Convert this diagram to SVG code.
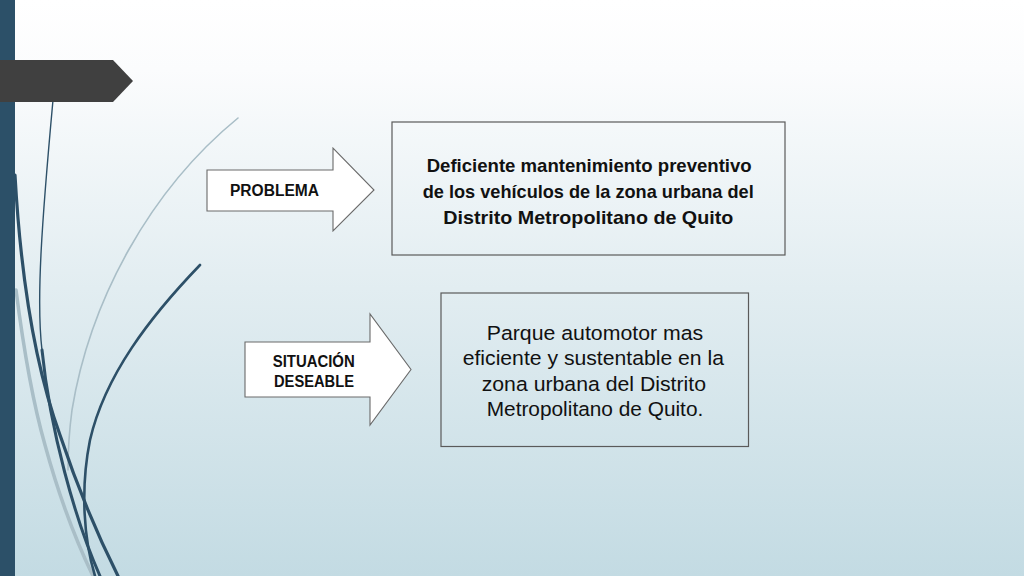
<svg xmlns="http://www.w3.org/2000/svg" width="1024" height="576" viewBox="0 0 1024 576">
  <defs>
    <linearGradient id="bg" x1="0" y1="0" x2="0" y2="1">
      <stop offset="0" stop-color="#ffffff"/>
      <stop offset="0.12" stop-color="#fbfcfd"/>
      <stop offset="0.5" stop-color="#e2edf1"/>
      <stop offset="1" stop-color="#c3dbe3"/>
    </linearGradient>
  </defs>
  <style>
    .box { fill: none; stroke: #5a5a5a; stroke-width: 1.2; }
    .blk { fill: #ffffff; stroke: #6a6a6a; stroke-width: 1.1; stroke-linejoin: miter; }
    .bold { font-family: "Liberation Sans", Arial, sans-serif; font-weight: bold; fill: #111111; }
    .reg { font-family: "Liberation Sans", Arial, sans-serif; font-size: 20.5px; fill: #111111; }
    .dark { fill: none; stroke: #2d5068; stroke-linecap: round; }
    .light { fill: none; stroke: #a9bec7; stroke-linecap: round; }
  </style>

  <rect x="0" y="0" width="1024" height="576" fill="url(#bg)"/>

  <g id="decoration">
    <path class="light" d="M238,118 C150,190 90,300 72,410 C68,440 68,455 68,470" stroke="#cbd4d8" stroke-width="1.6"/>
    <path class="light" d="M16,290 C25,360 35,410 45,445 C60,500 78,545 93,576" stroke-width="3.5"/>
    <path class="dark" d="M53,100 C42,220 36,300 42,350" stroke-width="1.4" stroke="#4d6778"/>
    <path class="dark" d="M42,350 C50,430 75,520 100,576" stroke-width="3"/>
    <path class="dark" d="M15,175 C22,300 40,380 60,435 C75,480 95,530 118,576" stroke-width="3.2"/>
    <path class="dark" d="M200,265 C150,317 105,375 90,440 C80,490 84,540 95,576" stroke-width="2.6"/>
    <rect x="0" y="0" width="15" height="576" fill="#2c5068"/>
    <polygon points="0,60 113,60 133,81 113,102 0,102" fill="#404040"/>
  </g>

  <g id="arrow-problema">
    <polygon class="blk" points="207,170 333,170 333,148 374,190 333,231 333,211 207,211"/>
    <text class="bold" x="230" y="195.5" font-size="16" textLength="89" lengthAdjust="spacingAndGlyphs">PROBLEMA</text>
  </g>

  <g id="box-problema">
    <rect class="box" x="392" y="122" width="393" height="133"/>
    <text class="bold" font-size="19">
      <tspan x="426.7" y="171.5" textLength="325" lengthAdjust="spacingAndGlyphs">Deficiente mantenimiento preventivo</tspan>
    </text>
    <text class="bold" font-size="19">
      <tspan x="422.7" y="197.5" textLength="331" lengthAdjust="spacingAndGlyphs">de los vehículos de la zona urbana del</tspan>
    </text>
    <text class="bold" font-size="19">
      <tspan x="443.3" y="223.5" textLength="290" lengthAdjust="spacingAndGlyphs">Distrito Metropolitano de Quito</tspan>
    </text>
  </g>

  <g id="arrow-situacion">
    <polygon class="blk" points="245,342 370,342 370,314 411,369.5 370,425 370,397 245,397"/>
    <text class="bold" x="272.7" y="366.7" font-size="16" textLength="82" lengthAdjust="spacingAndGlyphs">SITUACIÓN</text>
    <text class="bold" x="274" y="387.3" font-size="16" textLength="80" lengthAdjust="spacingAndGlyphs">DESEABLE</text>
  </g>

  <g id="box-situacion">
    <rect class="box" x="441" y="293" width="307.5" height="153.5"/>
    <text class="reg" x="486.7" y="339.5" textLength="216.5" lengthAdjust="spacingAndGlyphs">Parque automotor mas</text>
    <text class="reg" x="462.7" y="365" textLength="261.3" lengthAdjust="spacingAndGlyphs">eficiente y sustentable en la</text>
    <text class="reg" x="481.7" y="390.7" textLength="224.3" lengthAdjust="spacingAndGlyphs">zona urbana del Distrito</text>
    <text class="reg" x="486.7" y="416.3" textLength="216.6" lengthAdjust="spacingAndGlyphs">Metropolitano de Quito.</text>
  </g>

  <g id="connectors"/>
</svg>
